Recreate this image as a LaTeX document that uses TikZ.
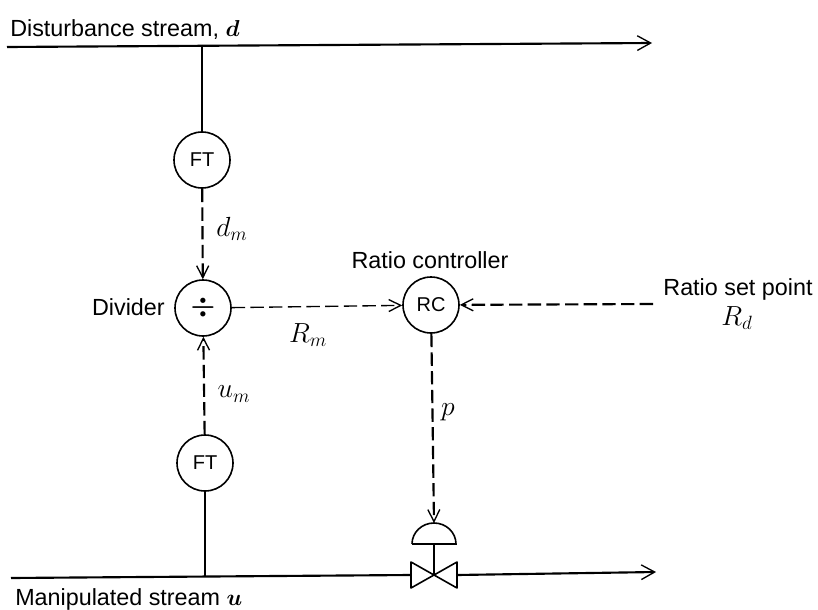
\documentclass[tikz,border=0pt]{standalone}
\usepackage{amsmath}
\usepackage{fontspec}
\setmainfont{Liberation Sans}
\usetikzlibrary{arrows.meta}

\begin{document}
\begin{tikzpicture} [
    x=0.75pt, y=-0.75pt,
    block/.style    = { circle, draw, line width=1.2pt, fill=white, minimum size=42pt, inner sep=0pt,
                        font=\fontsize{15}{17}\selectfont },
    label/.style    = { draw=none, font=\fontsize{17.5}{20}\selectfont, inner sep=0pt },
    symbol/.style   = { draw=none, font=\fontsize{20}{22}\selectfont, inner sep=0pt },
    line/.style     = { draw, line width=1.6pt },
    stream/.style   = { line, -{Straight Barb[length=10pt,width=11pt,line width=1pt]} },
    signal/.style   = { draw, line width=1.6pt, dash pattern=on 10pt off 4pt,
                        -{Straight Barb[length=9pt,width=9pt,line width=1pt]} },
    weaksignal/.style = { signal, line width=1pt },
  ]
  \useasboundingbox (0,0) rectangle (818,610);

  % Define nodes
  \node[block] (ftd) at (202,160) {FT};
  \node[block, font=\fontsize{22}{24}\selectfont] (divider) at (203,308) {$\boldsymbol{\div}$};
  \node[block] (ftu) at (205,463) {FT};
  \node[block] (rc) at (431,305) {RC};

  \coordinate (dstart) at (7,47);
  \coordinate (dend) at (652,43);
  \coordinate (dtap) at (202,45);
  \coordinate (ustart) at (11,578);
  \coordinate (utap) at (205,577);
  \coordinate (valve) at (434,575);
  \coordinate (vleft) at (411,575);
  \coordinate (vright) at (457,575);
  \coordinate (uend) at (656,572);
  \coordinate (domeleft) at (412,544);
  \coordinate (domeright) at (456,544);
  \coordinate (dometop) at (434,523);
  \coordinate (domebase) at (434,544);
  \coordinate (setpoint) at (653,304);

  % Text
  \node[label, anchor=base west] (dtext) at (10,37) {Disturbance stream, $\boldsymbol{d}$};
  \node[label, anchor=base west] (utext) at (15,605) {Manipulated stream $\boldsymbol{u}$};
  \node[label, anchor=base east] (dividertext) at (165,315) {Divider};
  \node[label, anchor=base] (rctext) at (430,268) {Ratio controller};
  \node[label, anchor=base] (rdtext) at (738,295) {Ratio set point};
  \node[symbol] (rdsym) at (737,318) {$R_d$};
  \node[symbol] (dmsym) at (232,229) {$d_m$};
  \node[symbol] (rmsym) at (308,335) {$R_m$};
  \node[symbol] (umsym) at (234,394) {$u_m$};
  \node[symbol] (psym) at (448,412) {$p$};

  % connect the nodes
  \path [stream] (dstart) -- (dend);
  \path [line] (dtap) -- (ftd);
  \path [signal] (ftd) -- (divider);
  \path [signal] (ftu) -- (divider);
  \path [weaksignal] (divider) -- (rc);
  \path [signal] (setpoint) -- (rc);
  \path [signal] (rc) -- (dometop);
  \path [line] (ftu) -- (utap);
  \path [line] (ustart) -- (vleft);
  \path [stream] (vright) -- (uend);

  % valve
  \draw[line width=1.2pt, fill=white, line join=round]
    ([shift={(0,-13)}]vleft) -- ([shift={(0,13)}]vleft) -- ([shift={(0,-13)}]vright)
    -- ([shift={(0,13)}]vright) -- cycle;
  \path [line] (domebase) -- (valve);
  \draw[line width=1.2pt] (domeleft) -- (domeright)
    arc[start angle=0, end angle=-180, x radius=22, y radius=21];
\end{tikzpicture}
\end{document}
